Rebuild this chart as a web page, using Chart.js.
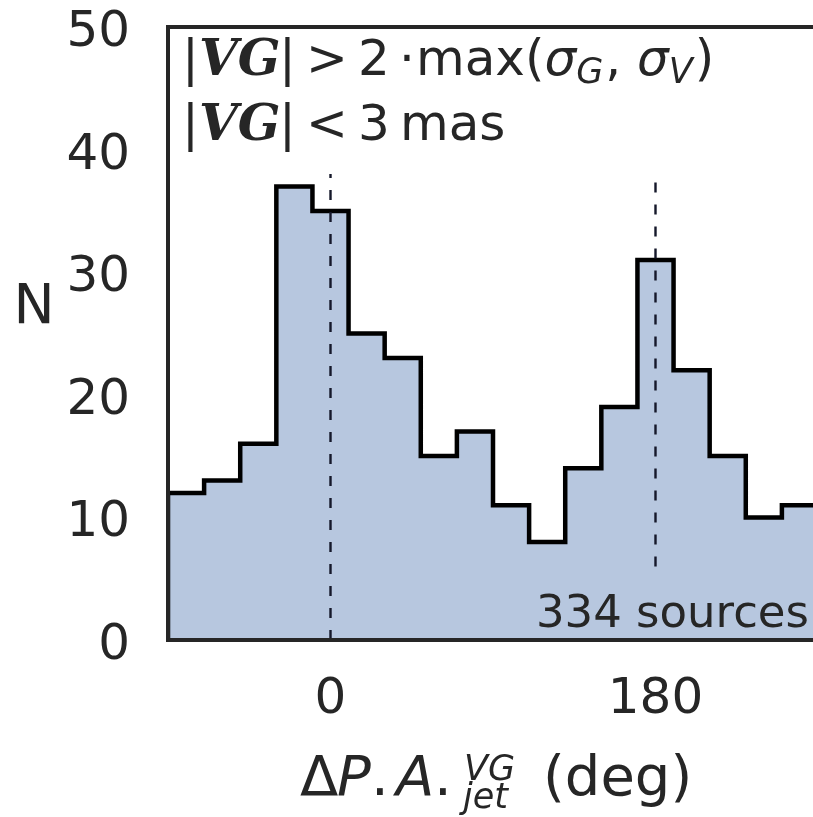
<!DOCTYPE html>
<html>
<head>
<meta charset="utf-8">
<script src="https://cdn.jsdelivr.net/npm/chart.js@4.4.1/dist/chart.umd.min.js"></script>
<style>
  html, body { margin: 0; padding: 0; background: #ffffff; overflow: hidden; }
  #wrap { position: absolute; left: 0; top: 0; width: 830px; height: 817px; }
</style>
</head>
<body>
<div id="wrap"><canvas id="c" width="830" height="817"></canvas></div>
<script>
// ---- data ----
const binEdges = [-90, -70, -50, -30, -10, 10, 30, 50, 70, 90, 110, 130, 150, 170, 190, 210, 230, 250, 270];
const counts   = [12, 13, 16, 37, 35, 25, 23, 15, 17, 11, 8, 14, 19, 31, 22, 15, 10, 11];
const xTicks = [0, 180];
const yTicks = [0, 10, 20, 30, 40, 50];
const refLineX      = [0, 180];
const refLineBottom = [0, 6];
const refLineTop    = [38, 37.5];
const countText = '334 sources';
const yTitle = 'N';

// ---- build datasets ----
const histPts = [{x: binEdges[0], y: 0}];
for (let i = 0; i < counts.length; i++) histPts.push({x: binEdges[i], y: counts[i]});
histPts.push({x: binEdges[binEdges.length - 1], y: counts[counts.length - 1]});
histPts.push({x: binEdges[binEdges.length - 1], y: 0});

const datasets = [{
  data: histPts,
  stepped: 'before',
  fill: 'origin',
  backgroundColor: 'rgba(76,114,176,0.4)',
  borderColor: '#000000',
  borderWidth: 4.5,
  pointRadius: 0,
  order: 2
}];
refLineX.forEach((xv, i) => {
  datasets.push({
    data: [{x: xv, y: refLineBottom[i]}, {x: xv, y: refLineTop[i]}],
    borderColor: '#15182a',
    borderWidth: 2.4,
    borderDash: [10, 12],
    pointRadius: 0,
    fill: false,
    order: 1
  });
});

const TXT = '#262626';
const SANS = '"DejaVu Sans"';

// draw a text piece so that its ink starts at inkX; returns the pen position after it
function putInk(ctx, t, font, inkX, y) {
  ctx.font = font;
  const m = ctx.measureText(t);
  const x0 = inkX + m.actualBoundingBoxLeft;
  ctx.fillText(t, x0, y);
  return x0 + m.width;
}
// draw at pen position, return new pen position
function put(ctx, t, font, x, y) {
  ctx.font = font;
  ctx.fillText(t, x, y);
  return x + ctx.measureText(t).width;
}

const decor = {
  id: 'decor',
  afterDatasetsDraw(chart) {
    const ctx = chart.ctx;
    const a = chart.chartArea;
    ctx.save();
    // frame
    ctx.strokeStyle = TXT;
    ctx.lineWidth = 4;
    ctx.strokeRect(a.left, a.top, a.right - a.left, a.bottom - a.top);

    ctx.fillStyle = TXT;
    ctx.textBaseline = 'alphabetic';
    ctx.textAlign = 'left';
    const F = 50;
    const reg = F + 'px ' + SANS;
    const it = 'oblique ' + F + 'px ' + SANS;
    const bi = 'italic bold ' + F + 'px "DejaVu Serif"';
    const sub = 'oblique ' + Math.round(F * 0.7) + 'px ' + SANS;
    const y1 = 75, y2 = 140;
    // annotation line 1
    putInk(ctx, '|', reg, 188, y1);
    putInk(ctx, 'VG', bi, 201, y1);
    putInk(ctx, '|', reg, 285, y1);
    putInk(ctx, '>', reg, 311, y1);
    putInk(ctx, '2', reg, 361, y1);
    putInk(ctx, '\u00B7', reg, 404, y1);
    let x = putInk(ctx, 'max(', reg, 420, y1);
    x = put(ctx, '\u03C3', it, x, y1);
    x = put(ctx, 'G', sub, x, y1 + 8);
    x = put(ctx, ', ', reg, x + 2, y1);
    x = put(ctx, '\u03C3', it, x, y1);
    x = put(ctx, 'V', sub, x, y1 + 8);
    put(ctx, ')', reg, x + 2, y1);
    // annotation line 2
    putInk(ctx, '|', reg, 188, y2);
    putInk(ctx, 'VG', bi, 201, y2);
    putInk(ctx, '|', reg, 285, y2);
    putInk(ctx, '<', reg, 311, y2);
    putInk(ctx, '3', reg, 361, y2);
    putInk(ctx, 'mas', reg, 404, y2);

    // count text
    ctx.font = '45px ' + SANS;
    ctx.textAlign = 'right';
    ctx.fillText(countText, 809, 627);

    // y title
    ctx.font = '55px ' + SANS;
    ctx.textAlign = 'center';
    ctx.fillText(yTitle, 34, 323);

    // x title
    ctx.textAlign = 'left';
    const XF = 56;
    const xr = XF + 'px ' + SANS;
    const xi = 'oblique ' + XF + 'px ' + SANS;
    const xs = 'oblique 35px ' + SANS;
    const yb = 795;
    putInk(ctx, '\u0394', xr, 300, yb);
    putInk(ctx, 'P', xi, 338, yb);
    putInk(ctx, '.', xr, 376, yb);
    putInk(ctx, 'A', xi, 393, yb);
    putInk(ctx, '.', xr, 439, yb);
    putInk(ctx, 'VG', xs, 466, 780);
    putInk(ctx, 'jet', xs, 459, 808);
    putInk(ctx, '(deg)', xr, 547, yb);
    ctx.restore();
  }
};

new Chart(document.getElementById('c'), {
  type: 'line',
  data: { datasets },
  options: {
    responsive: false,
    animation: false,
    events: [],
    layout: { autoPadding: false, padding: { top: 27, right: 12, left: 0, bottom: 0 } },
    plugins: { legend: { display: false }, tooltip: { enabled: false } },
    elements: { line: { tension: 0 } },
    scales: {
      x: {
        type: 'linear',
        min: binEdges[0],
        max: binEdges[binEdges.length - 1],
        grid: { display: false, drawTicks: false },
        border: { display: false },
        ticks: { color: TXT, font: { family: 'DejaVu Sans', size: 50 }, padding: 30, maxRotation: 0 },
        afterBuildTicks: s => { s.ticks = xTicks.map(v => ({ value: v })); },
        afterFit: s => { s.height = 177; s.paddingLeft = 0; s.paddingRight = 0; }
      },
      y: {
        type: 'linear',
        min: yTicks[0],
        max: yTicks[yTicks.length - 1],
        grid: { display: false, drawTicks: false },
        border: { display: false },
        ticks: { color: TXT, font: { family: 'DejaVu Sans', size: 50 }, padding: 38, labelOffset: 6 },
        afterBuildTicks: s => { s.ticks = yTicks.map(v => ({ value: v })); },
        afterFit: s => { s.width = 168; s.paddingTop = 0; s.paddingBottom = 0; }
      }
    }
  },
  plugins: [decor]
});
</script>
</body>
</html>
